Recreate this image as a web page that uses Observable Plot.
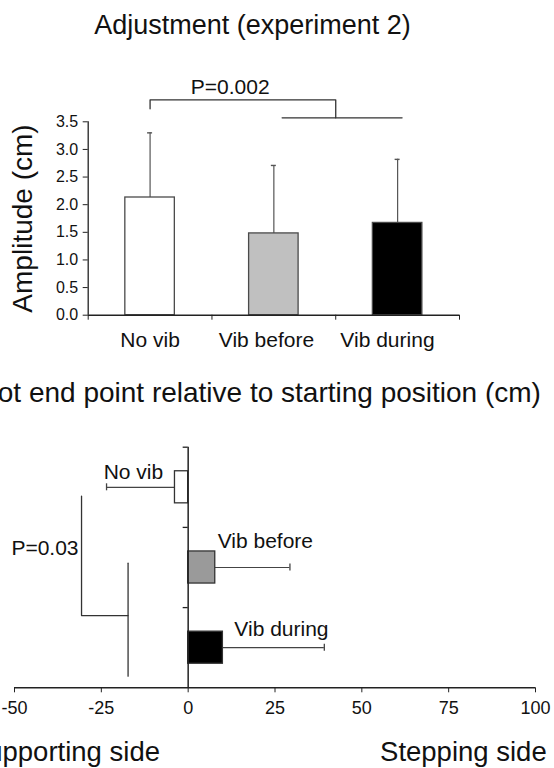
<!DOCTYPE html>
<html>
<head>
<meta charset="utf-8">
<script src="https://cdn.jsdelivr.net/npm/d3@7"></script>
<script src="https://cdn.jsdelivr.net/npm/@observablehq/plot@0.6"></script>
<style>
  html, body { margin: 0; padding: 0; background: #fff; }
  #fig { position: relative; width: 554px; height: 768px; overflow: hidden;
         font-family: "Liberation Sans", Arial, Helvetica, sans-serif; color: #111; }
  .t { position: absolute; white-space: nowrap; line-height: 1; }
  .plotbox { position: absolute; left: 0; }
</style>
</head>
<body>
<div id="fig">
  <div id="topPlot" class="plotbox" style="top:0px"></div>
  <div id="botPlot" class="plotbox" style="top:365px"></div>
  <div class="t" style="left:252.5px; top:12.1px; font-size:27px; transform:translateX(-50%);">Adjustment (experiment 2)</div>
  <div class="t" style="left:253px; top:379.3px; font-size:28px; transform:translateX(-50%);">Foot end point relative to starting position (cm)</div>
  <div class="t" style="right:394px; top:737.7px; font-size:27.5px;">Supporting side</div>
  <div class="t" style="right:7.3px; top:737.7px; font-size:27.5px;">Stepping side</div>
</div>
<script>
// ---------- data ----------
const categories = ["No vib", "Vib before", "Vib during"];

// Top panel: amplitude (cm), mean and SD
const amplitudeMean = [2.13, 1.48, 1.67];
const amplitudeSD = [1.17, 1.23, 1.15];
const amplitudeTicks = [0, 0.5, 1.0, 1.5, 2.0, 2.5, 3.0, 3.5];
const amplitudeLabelX = [0.5, 1.44, 2.418];
const topP = {text: "P=0.002", x: 1.147, y: 3.898};
const topBracketA = [[0.5, 3.735], [0.5, 3.898], [2.0, 3.898], [2.0, 3.572]];
const topBracketB = [[1.567, 3.572], [2.536, 3.572]];

// Bottom panel: foot end point (cm), mean and SD
const endpointMean = [-3.8, 7.8, 10.0];
const endpointSD = [19.7, 21.5, 29.2];
const endpointTicks = [-50, -25, 0, 25, 50, 75, 100];
const endpointLabelX = [-7.2, 8.5, 13.3];
const endpointLabelY = [0.394, 1.254, 2.357];
const botP = {text: "P=0.03", x: -30.7, y: 1.35};
const botBracketA = [[-30.7, 0.61], [-30.7, 2.10], [-17.3, 2.10]];
const botBracketB = [[-17.3, 1.446], [-17.3, 2.855]];

// ---------- styles ----------
const FONT = '"Liberation Sans", Arial, Helvetica, sans-serif';
const topFills = ["#ffffff", "#c0c0c0", "#000000"];
const botFills = ["#ffffff", "#9a9a9a", "#000000"];

const topRows = categories.map((c, i) => ({c, i, mean: amplitudeMean[i], sd: amplitudeSD[i], lx: amplitudeLabelX[i]}));
const botRows = categories.map((c, i) => ({
  c, i, mean: endpointMean[i],
  end: endpointMean[i] + Math.sign(endpointMean[i]) * endpointSD[i],
  lx: endpointLabelX[i], ly: endpointLabelY[i]
}));

const topChart = Plot.plot({
  width: 554, height: 365,
  marginLeft: 87.7, marginRight: 95, marginTop: 121.3, marginBottom: 50.3,
  x: {domain: [0, 3]},
  y: {domain: [0, 3.5]},
  color: {type: "identity"},
  style: {fontFamily: FONT, fontSize: "16px", color: "#111", background: "transparent", overflow: "visible"},
  marks: [
    Plot.ruleX(topRows, {x: d => d.i + 0.5, y1: "mean", y2: d => d.mean + d.sd, stroke: "#555", strokeWidth: 1.2}),
    Plot.ruleY(topRows, {y: d => d.mean + d.sd, x1: d => d.i + 0.5, x2: d => d.i + 0.5, insetLeft: -2.5, insetRight: -2.5, stroke: "#555", strokeWidth: 1.4}),
    Plot.rectY(topRows, {x1: d => d.i + 0.3, x2: d => d.i + 0.7, y1: 0, y2: "mean", fill: d => topFills[d.i], stroke: "#4a4a4a", strokeWidth: 1.3}),
    Plot.ruleX([0], {y1: 0, y2: 3.5, stroke: "#222", strokeWidth: 1.3}),
    Plot.ruleY([0], {x1: 0, x2: 3, stroke: "#222", strokeWidth: 1.5}),
    Plot.axisY({ticks: amplitudeTicks, tickFormat: d => d.toFixed(1), tickSize: 5, tickPadding: 5, label: null, stroke: "#222"}),
    Plot.axisX({ticks: [0, 1, 2, 3], tickFormat: () => "", tickSize: 5, label: null, stroke: "#222"}),
    Plot.text(topRows, {x: "lx", y: 0, text: "c", dy: 31.6, lineAnchor: "bottom", fontSize: 21}),
    Plot.text(["Amplitude (cm)"], {x: 0, y: 1.75, text: d => d, rotate: -90, dx: -64.7, fontSize: 28}),
    Plot.line(topBracketA, {stroke: "#333", strokeWidth: 1.3}),
    Plot.line(topBracketB, {stroke: "#333", strokeWidth: 1.3}),
    Plot.text([topP], {x: "x", y: "y", text: "text", dy: -6, lineAnchor: "bottom", fontSize: 21})
  ]
});
document.getElementById("topPlot").appendChild(topChart);

const botChart = Plot.plot({
  width: 554, height: 403,
  marginLeft: 14, marginRight: 19, marginTop: 81.7, marginBottom: 80.7,
  x: {domain: [-50, 100]},
  y: {domain: [0, 3], reverse: true, axis: null},
  color: {type: "identity"},
  style: {fontFamily: FONT, fontSize: "18px", color: "#111", background: "transparent", overflow: "visible"},
  marks: [
    Plot.ruleY(botRows, {y: d => d.i + 0.5, x1: "mean", x2: "end", stroke: "#444", strokeWidth: 1.2}),
    Plot.ruleX(botRows, {x: "end", y1: d => d.i + 0.5, y2: d => d.i + 0.5, insetTop: -3.5, insetBottom: -3.5, stroke: "#444", strokeWidth: 1.3}),
    Plot.rectX(botRows, {y1: d => d.i + 0.3, y2: d => d.i + 0.7, x1: 0, x2: "mean", fill: d => botFills[d.i], stroke: "#333", strokeWidth: 1.3}),
    Plot.ruleX([0], {y1: 0, y2: 3, stroke: "#222", strokeWidth: 1.5}),
    Plot.ruleY([0, 1, 2], {y: d => d, x1: 0, x2: 0, insetLeft: -5, stroke: "#222", strokeWidth: 1.3}),
    Plot.ruleY([3], {x1: -50, x2: 100, stroke: "#222", strokeWidth: 1.5}),
    Plot.axisX({ticks: endpointTicks, tickFormat: d => String(d), tickSize: 5, tickPadding: 8, label: null, stroke: "#222"}),
    Plot.text(botRows, {filter: d => d.mean < 0, x: "lx", y: "ly", text: "c", textAnchor: "end", lineAnchor: "bottom", fontSize: 21}),
    Plot.text(botRows, {filter: d => d.mean >= 0, x: "lx", y: "ly", text: "c", textAnchor: "start", lineAnchor: "bottom", fontSize: 21}),
    Plot.line(botBracketA, {stroke: "#333", strokeWidth: 1.3}),
    Plot.line(botBracketB, {stroke: "#333", strokeWidth: 1.3}),
    Plot.text([botP], {x: "x", y: "y", text: "text", dx: -3, textAnchor: "end", lineAnchor: "bottom", fontSize: 21})
  ]
});
document.getElementById("botPlot").appendChild(botChart);
</script>
</body>
</html>
